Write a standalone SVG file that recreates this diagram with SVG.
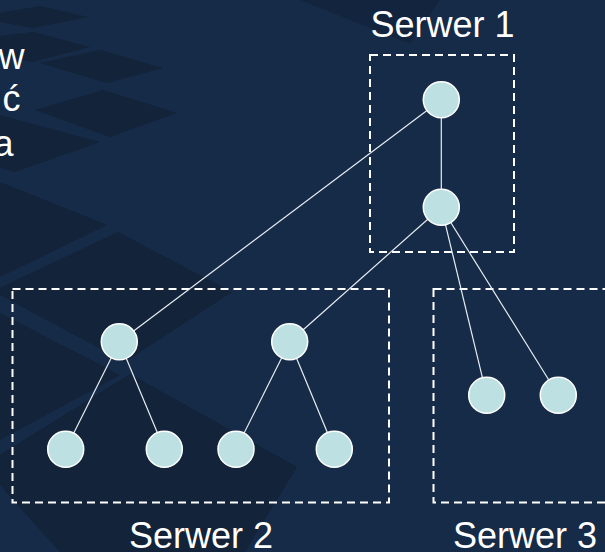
<svg xmlns="http://www.w3.org/2000/svg" width="605" height="552" viewBox="0 0 605 552">
  <style>
    .bg { fill: #162b47; }
    .tile { fill: #12233a; }
    .label { font-family: "Liberation Sans", Arial, sans-serif; font-size: 36px; fill: #ffffff; }
    .frame { fill: none; stroke: #ffffff; stroke-width: 2; stroke-dasharray: 8 5; }
    .edge { stroke: #e8eef2; stroke-width: 1.2; fill: none; }
    .node { fill: #bde0e3; stroke: #ffffff; stroke-width: 1.5; }
  </style>

  <!-- backdrop with darker slanted tiles -->
  <rect class="bg" x="0" y="0" width="605" height="552"/>
  <g id="backdrop">
    <polygon class="tile" points="0,13 40,6 88,17 33,28 0,22"/>
    <polygon class="tile" points="0,36 33,32 90,47 32,62 0,55"/>
    <polygon class="tile" points="40,63 100,50 163,68 107,83"/>
    <polygon class="tile" points="35,110 103,90 177,113 110,137"/>
    <polygon class="tile" points="0,115 100,142 15,172 0,168"/>
    <polygon class="tile" points="0,182 107,225 0,277"/>
    <polygon class="tile" points="10,283 118,232 232,292 125,362 0,295 0,288"/>
    <polygon class="tile" points="0,313 120,375 0,440"/>
    <polygon class="tile" points="0,455 130,374 297,467 245,552 60,552 0,485"/>
    <polygon class="tile" opacity="0.7" points="300,0 410,44 440,0"/>
  </g>

  <!-- partially visible text on the left edge -->
  <g id="side-text">
    <text class="label" x="24.5" y="68.5" text-anchor="end">w</text>
    <text class="label" x="20.5" y="111" text-anchor="end">ć</text>
    <text class="label" x="13.5" y="155.5" text-anchor="end">a</text>
  </g>

  <!-- server frames -->
  <g id="server-1">
    <rect class="frame" x="370" y="55" width="144" height="197"/>
    <text class="label" x="442.5" y="36.5" text-anchor="middle">Serwer 1</text>
  </g>
  <g id="server-2">
    <rect class="frame" x="12.5" y="289" width="376.5" height="213.5"/>
    <text class="label" x="201" y="548" text-anchor="middle">Serwer 2</text>
  </g>
  <g id="server-3">
    <rect class="frame" x="433.5" y="289" width="200" height="213.5"/>
    <text class="label" x="525" y="548" text-anchor="middle">Serwer 3</text>
  </g>

  <!-- tree connectors -->
  <g id="connectors">
    <line class="edge" x1="441.3" y1="99.7" x2="441.3" y2="207.3"/>
    <line class="edge" x1="441.3" y1="99.7" x2="119.3" y2="341.7"/>
    <line class="edge" x1="441.3" y1="207.3" x2="289.7" y2="341.7"/>
    <line class="edge" x1="441.3" y1="207.3" x2="486.7" y2="395.3"/>
    <line class="edge" x1="441.3" y1="207.3" x2="558.3" y2="395.3"/>
    <line class="edge" x1="119.3" y1="341.7" x2="65.7" y2="449.3"/>
    <line class="edge" x1="119.3" y1="341.7" x2="164.3" y2="449.3"/>
    <line class="edge" x1="289.7" y1="341.7" x2="236" y2="449.3"/>
    <line class="edge" x1="289.7" y1="341.7" x2="334.3" y2="449.3"/>
  </g>

  <!-- tree nodes -->
  <g id="n-root"><circle class="node" cx="441.3" cy="99.7" r="18"/></g>
  <g id="n-mid"><circle class="node" cx="441.3" cy="207.3" r="18"/></g>
  <g id="n-a"><circle class="node" cx="119.3" cy="341.7" r="18"/></g>
  <g id="n-b"><circle class="node" cx="289.7" cy="341.7" r="18"/></g>
  <g id="n-a1"><circle class="node" cx="65.7" cy="449.3" r="18"/></g>
  <g id="n-a2"><circle class="node" cx="164.3" cy="449.3" r="18"/></g>
  <g id="n-b1"><circle class="node" cx="236" cy="449.3" r="18"/></g>
  <g id="n-b2"><circle class="node" cx="334.3" cy="449.3" r="18"/></g>
  <g id="n-c1"><circle class="node" cx="486.7" cy="395.3" r="18"/></g>
  <g id="n-c2"><circle class="node" cx="558.3" cy="395.3" r="18"/></g>
</svg>
